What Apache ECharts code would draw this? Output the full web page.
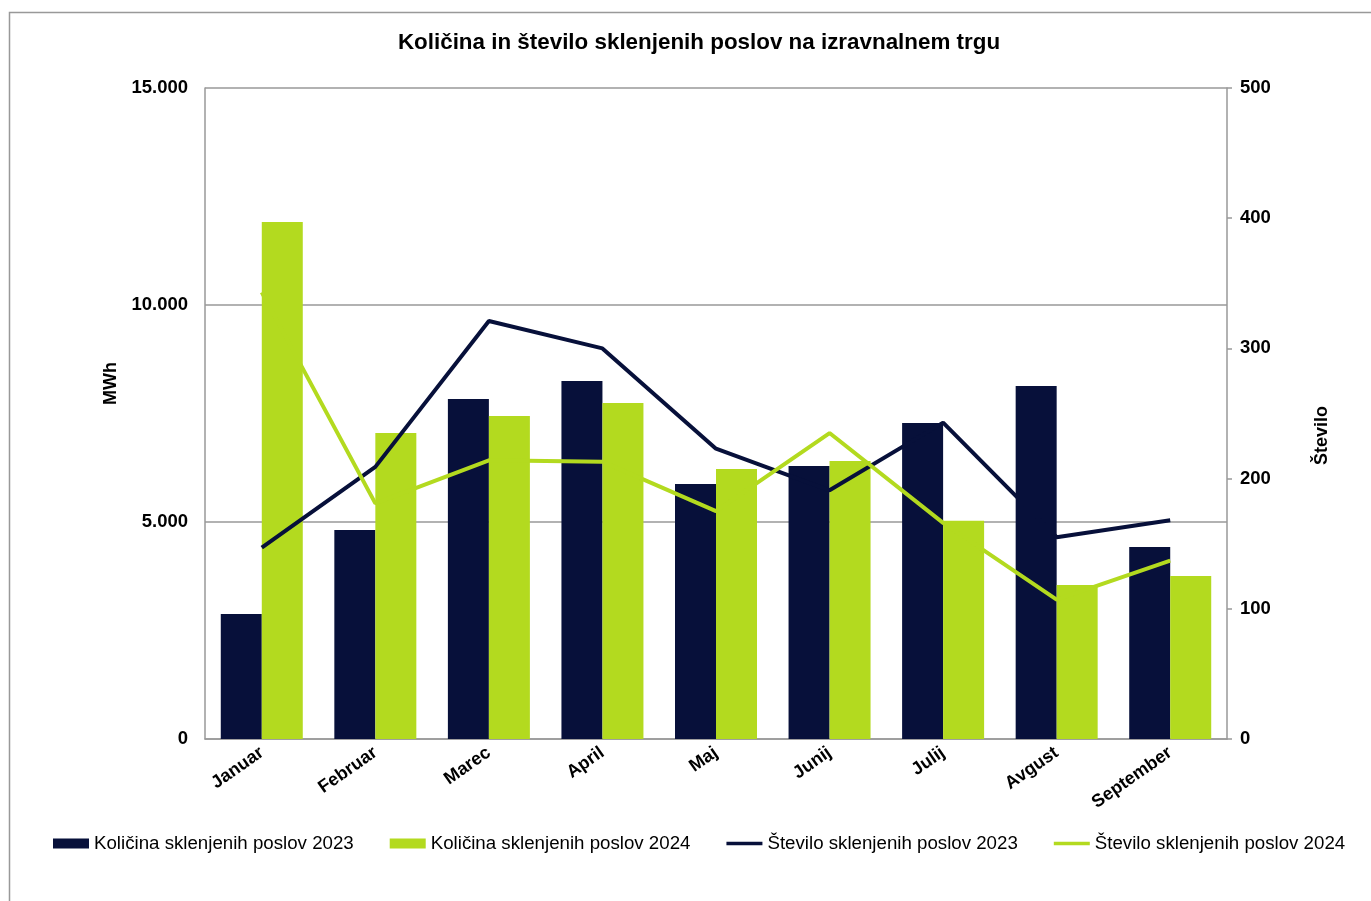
<!DOCTYPE html>
<html>
<head>
<meta charset="utf-8">
<script src="https://cdn.jsdelivr.net/npm/echarts@6/dist/echarts.min.js"></script>
<style>
html, body { margin: 0; padding: 0; background: #fff; }
#main { width: 1371px; height: 901px; }
</style>
</head>
<body>
<div id="main"></div>
<script>
// podatki
var months = ['Januar', 'Februar', 'Marec', 'April', 'Maj', 'Junij', 'Julij', 'Avgust', 'September'];
var kolicina2023 = [2880, 4816, 7834, 8249, 5876, 6290, 7281, 8134, 4424];
var kolicina2024 = [11912, 7051, 7442, 7742, 6221, 6406, 5030, 3548, 3756];
var stevilo2023 = [147, 209, 321, 300, 223, 191, 243, 155, 168];
var stevilo2024 = [343, 181, 214, 213, 175, 235, 166, 107, 137];

var dark = '#07103a';
var green = '#b3da1f';
var font = '"Liberation Sans", Arial, sans-serif';
var lineIcon = 'path://M0,0 L40,0 L40,4 L0,4 Z';

function thousands(v) {
	return String(v).replace(/\B(?=(\d{3})+(?!\d))/g, '.');
}

var chart = echarts.init(document.getElementById('main'));
var option = {
	animation: false,
	backgroundColor: '#fff',
	textStyle: { fontFamily: font },
	title: {
		text: 'Količina in število sklenjenih poslov na izravnalnem trgu',
		left: 694,
		textAlign: 'center',
		top: 27,
		textStyle: { fontFamily: font, fontSize: 22.4, fontWeight: 'bold', color: '#000' }
	},
	graphic: [{
		type: 'rect',
		shape: { x: 9.5, y: 12.5, width: 1400, height: 1000 },
		style: { fill: 'none', stroke: '#999', lineWidth: 1.5 },
		silent: true
	}],
	legend: {
		left: 53,
		top: 834,
		padding: 0,
		width: 1310,
		itemGap: 36,
		itemWidth: 36,
		itemHeight: 10,
		textStyle: { fontFamily: font, fontSize: 18.7, color: '#000' },
		data: [
			{ name: 'Količina sklenjenih poslov 2023', icon: 'rect' },
			{ name: 'Količina sklenjenih poslov 2024', icon: 'rect' },
			{ name: 'Število sklenjenih poslov 2023', icon: lineIcon },
			{ name: 'Število sklenjenih poslov 2024', icon: lineIcon }
		]
	},
	grid: { left: 205, right: 144, top: 88, bottom: 162 },
	xAxis: {
		type: 'category',
		data: months,
		axisLine: { lineStyle: { color: '#999', width: 1.5 } },
		axisTick: { show: false },
		axisLabel: {
			rotate: 35,
			margin: 12,
			fontFamily: font,
			fontSize: 18,
			fontWeight: 'bold',
			color: '#000'
		}
	},
	yAxis: [{
		type: 'value',
		min: 0,
		max: 15000,
		interval: 5000,
		name: 'MWh',
		nameLocation: 'middle',
		nameRotate: 90,
		nameGap: 77,
		nameTextStyle: { fontFamily: font, fontSize: 18, fontWeight: 'bold', color: '#000', padding: [0, 0, 0, 60] },
		axisLine: { show: true, lineStyle: { color: '#999', width: 1.5 } },
		axisTick: { show: false },
		splitLine: { lineStyle: { color: '#999', width: 1.5 } },
		axisLabel: {
			margin: 17,
			fontFamily: font,
			fontSize: 18.5,
			fontWeight: 'bold',
			color: '#000',
			formatter: thousands
		}
	}, {
		type: 'value',
		min: 0,
		max: 500,
		interval: 100,
		position: 'right',
		name: 'Število',
		nameLocation: 'middle',
		nameRotate: 90,
		nameGap: 86,
		nameTextStyle: { fontFamily: font, fontSize: 18, fontWeight: 'bold', color: '#000', padding: [0, 44, 0, 0] },
		axisLine: { show: true, lineStyle: { color: '#999', width: 1.5 } },
		axisTick: { show: true, length: 5, lineStyle: { color: '#999', width: 1.5 } },
		splitLine: { show: false },
		axisLabel: {
			margin: 13,
			fontFamily: font,
			fontSize: 18.5,
			fontWeight: 'bold',
			color: '#000'
		}
	}],
	series: [{
		name: 'Količina sklenjenih poslov 2023',
		type: 'bar',
		yAxisIndex: 0,
		barWidth: 41,
		barGap: '0%',
		itemStyle: { color: dark },
		data: kolicina2023
	}, {
		name: 'Količina sklenjenih poslov 2024',
		type: 'bar',
		yAxisIndex: 0,
		barWidth: 41,
		barGap: '0%',
		itemStyle: { color: green },
		data: kolicina2024
	}, {
		name: 'Število sklenjenih poslov 2023',
		type: 'line',
		yAxisIndex: 1,
		symbol: 'none',
		z: 5,
		lineStyle: { color: dark, width: 4 },
		itemStyle: { color: dark },
		data: stevilo2023
	}, {
		name: 'Število sklenjenih poslov 2024',
		type: 'line',
		yAxisIndex: 1,
		symbol: 'none',
		z: 6,
		lineStyle: { color: green, width: 4 },
		itemStyle: { color: green },
		data: stevilo2024
	}]
};
chart.setOption(option);
</script>
</body>
</html>
